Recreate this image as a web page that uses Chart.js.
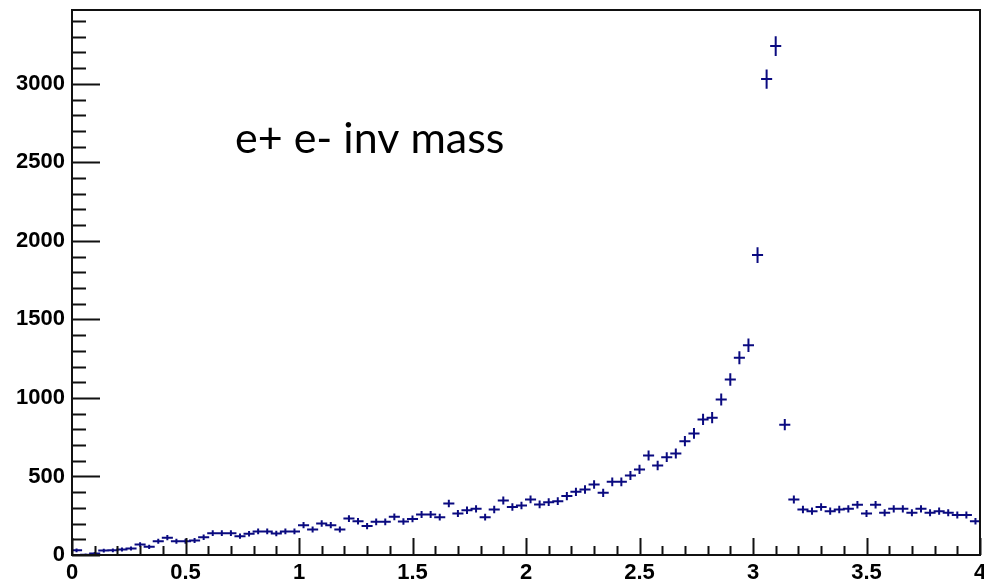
<!DOCTYPE html>
<html>
<head>
<meta charset="utf-8">
<script src="https://cdn.jsdelivr.net/npm/chart.js@4"></script>
<style>
  html, body { margin: 0; padding: 0; background: #fff; }
  #wrap { position: relative; width: 984px; height: 579px; }
</style>
</head>
<body>
<div id="wrap"><canvas id="hist"></canvas></div>
<script>
// histogram binning: 100 bins between 0 and 4
const xRange = [0, 4];
const nBins = 100;

// entries per bin
const counts = [
  30, 2, 10, 28, 30, 35, 41, 67, 52, 88,
  110, 88, 88, 92, 113, 139, 139, 139, 120, 135,
  150, 150, 137, 150, 150,
  190, 162, 200, 190, 162, 232, 215, 184, 211, 211,
  243, 213, 230, 258, 258, 241, 328, 264, 285, 294,
  241, 290, 347, 305, 315,
  354, 322, 336, 343, 375, 402, 417, 449, 396, 466,
  466, 506, 545, 634, 570, 623, 647, 725, 774, 863,
  874, 990, 1118, 1256, 1336,
  1910, 3030, 3240, 830, 353, 290, 279, 305, 279, 290,
  294, 320, 264, 320, 269, 294, 294, 269, 294, 269,
  279, 269, 254, 254, 215
];

const xTicks = [0, 0.5, 1, 1.5, 2, 2.5, 3, 3.5, 4];
const yTicks = [0, 500, 1000, 1500, 2000, 2500, 3000];
const yMax = 3470;
const title = "e+ e- inv mass";

const binW = (xRange[1] - xRange[0]) / nBins;
const points = counts.map((n, i) => ({ x: xRange[0] + (i + 0.5) * binW, y: n }));

const markerColor = "#0a0a80";

// ROOT-like frame, inside ticks and error crosses
const rootStyle = {
  id: "rootStyle",
  afterDatasetsDraw(chart) {
    const { ctx, chartArea: a, scales: { x, y } } = chart;
    ctx.save();

    // error crosses
    ctx.beginPath();
    ctx.rect(a.left, a.top, a.width, a.height);
    ctx.clip();
    ctx.strokeStyle = markerColor;
    ctx.lineWidth = 2;
    ctx.lineCap = "square";
    ctx.beginPath();
    points.forEach((p) => {
      const err = Math.sqrt(p.y);
      const py = y.getPixelForValue(p.y);
      const px = x.getPixelForValue(p.x);
      ctx.moveTo(x.getPixelForValue(p.x - binW / 2), py);
      ctx.lineTo(x.getPixelForValue(p.x + binW / 2), py);
      ctx.moveTo(px, y.getPixelForValue(p.y + err));
      ctx.lineTo(px, y.getPixelForValue(Math.max(0, p.y - err)));
    });
    ctx.stroke();
    ctx.restore();

    ctx.save();
    ctx.strokeStyle = "#111";
    ctx.lineWidth = 2;
    ctx.beginPath();
    // y ticks: major every 500, minor every 100
    for (let v = 0; v <= yMax; v += 100) {
      const py = Math.round(y.getPixelForValue(v)) + 0.5;
      const len = v % 500 === 0 ? 28 : 14;
      ctx.moveTo(a.left, py);
      ctx.lineTo(a.left + len, py);
    }
    // x ticks: major every 0.5, minor every 0.1
    for (let k = 0; k <= 40; k++) {
      const px = Math.round(x.getPixelForValue(k / 10)) + 0.5;
      const len = k % 5 === 0 ? 17 : 9;
      ctx.moveTo(px, a.bottom);
      ctx.lineTo(px, a.bottom - len);
    }
    ctx.stroke();
    ctx.strokeRect(a.left, a.top, a.width, a.height);

    // label text inside the pad
    ctx.fillStyle = "#000";
    ctx.font = "43px Lato";
    ctx.textBaseline = "alphabetic";
    ctx.fillText(title, 235, 153);
    ctx.restore();
  }
};

new Chart(document.getElementById("hist"), {
  type: "scatter",
  data: {
    datasets: [{
      label: title,
      data: points,
      pointRadius: 0,
      showLine: false
    }]
  },
  options: {
    responsive: true,
    maintainAspectRatio: false,
    animation: false,
    events: [],
    layout: { padding: { top: 10, right: 0, left: 0, bottom: 0 } },
    plugins: { legend: { display: false }, tooltip: { enabled: false } },
    scales: {
      x: {
        type: "linear",
        min: xRange[0],
        max: xRange[1],
        afterBuildTicks: (s) => { s.ticks = xTicks.map((v) => ({ value: v })); },
        afterFit: (s) => { s.height = 24; s.paddingRight = 4; s.paddingLeft = 0; },
        grid: { display: false, drawTicks: false },
        border: { display: false },
        ticks: {
          padding: 5,
          color: "#000",
          font: { family: "Liberation Sans", size: 22, weight: "bold" },
          maxRotation: 0,
          callback: (v) => String(v)
        }
      },
      y: {
        min: 0,
        max: yMax,
        afterBuildTicks: (s) => { s.ticks = yTicks.map((v) => ({ value: v })); },
        afterFit: (s) => { s.width = 72; s.paddingTop = 0; s.paddingBottom = 0; },
        grid: { display: false, drawTicks: false },
        border: { display: false },
        ticks: {
          padding: 7,
          color: "#000",
          font: { family: "Liberation Sans", size: 22, weight: "bold" },
          callback: (v) => String(v)
        }
      }
    }
  },
  plugins: [rootStyle]
});
</script>
</body>
</html>
